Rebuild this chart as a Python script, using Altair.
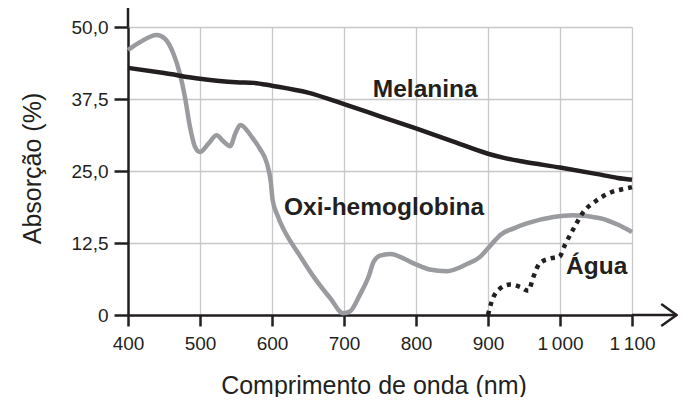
import altair as alt
import pandas as pd

# ---- data ----
mel_nm = [400, 450, 500, 550, 575, 600, 650, 700, 750, 800, 850, 900, 925, 950, 1000, 1050, 1080, 1100]
mel_val = [42.9, 42.0, 41.0, 40.4, 40.3, 39.8, 38.6, 36.6, 34.5, 32.4, 30.2, 28.0, 27.2, 26.6, 25.6, 24.5, 23.8, 23.5]

oxi_nm = [400, 417, 440, 451, 463, 472, 479, 486, 493, 500, 512, 523, 532, 542, 549, 556, 572, 583, 593,
          598, 601, 608, 625, 634, 657, 681, 699, 708, 722, 734, 741, 750, 764, 796, 819, 843, 870, 889,
          900, 910, 917, 935, 954, 991, 1018, 1056, 1080, 1100]
oxi_val = [46.0, 47.4, 48.6, 48.0, 45.4, 41.9, 37.9, 32.7, 29.2, 28.3, 29.8, 31.2, 30.2, 29.3, 31.5, 33.0,
           30.9, 28.9, 26.3, 23.4, 19.9, 17.2, 12.9, 11.2, 6.8, 2.9, 0.3, 0.6, 3.5, 6.6, 9.2, 10.3, 10.6,
           9.0, 7.9, 7.6, 8.8, 10.1, 11.6, 13.0, 13.9, 15.0, 15.9, 17.0, 17.3, 16.8, 15.7, 14.4]

agua_nm = [900, 905, 914, 931, 944, 956, 963, 972, 986, 999, 1007, 1018, 1032, 1051, 1069, 1093, 1100]
agua_val = [0.0, 2.3, 4.3, 5.3, 4.9, 4.2, 6.6, 9.0, 9.8, 10.1, 12.2, 14.8, 17.8, 19.9, 21.2, 22.0, 22.2]

label_text = ["Melanina", "Oxi-hemoglobina", "Água"]
label_nm = [812.8, 755.6, 1051.0]
label_val = [37.9, 17.3, 7.2]

x_ticks = [400, 500, 600, 700, 800, 900, 1000, 1100]
x_tick_labels = ["400", "500", "600", "700", "800", "900", "1\u2009000", "1\u2009100"]
y_ticks = [0, 12.5, 25, 37.5, 50]
y_tick_labels = ["0", "12,5", "25,0", "37,5", "50,0"]

# axis extensions (arrow on x, line continuing upward on y)
x_axis_end = 1162
y_axis_top = 54

INK = "#231f20"
GRAY = "#9a9b9e"
GRID = "#c8c8c8"
FONT = "Liberation Sans"


def label_expr(vals, labels):
    parts = [f"datum.value == {v} ? '{l}'" for v, l in zip(vals, labels)]
    return " : ".join(parts) + " : ''"


mel = pd.DataFrame({"nm": mel_nm, "v": mel_val})
oxi = pd.DataFrame({"nm": oxi_nm, "v": oxi_val})
agua = pd.DataFrame({"nm": agua_nm, "v": agua_val})
labels = pd.DataFrame({"t": label_text, "nm": label_nm, "v": label_val})

xscale = alt.Scale(domain=[400, 1100], nice=False, zero=False)
yscale = alt.Scale(domain=[0, 50], nice=False, zero=False)

xaxis = alt.Axis(
    values=x_ticks, labelExpr=label_expr(x_ticks, x_tick_labels),
    title="Comprimento de onda (nm)", titleFontSize=25, titleFontWeight="normal",
    titleX=245.5, titleY=78, titleBaseline="alphabetic", titleAlign="center",
    titleColor=INK, titleFont=FONT,
    labelFontSize=19, labelFont=FONT, labelColor=INK, labelPadding=8, labelFlush=False,
    labelOverlap=False, tickSize=11, tickWidth=2.5, tickColor=INK,
    domainWidth=2.5, domainColor=INK, grid=True, gridColor=GRID, gridWidth=1.3,
)
yaxis = alt.Axis(
    values=y_ticks, labelExpr=label_expr(y_ticks, y_tick_labels),
    title="Absorção (%)", titleFontSize=25, titleFontWeight="normal",
    titleX=-88, titleY=141, titleBaseline="alphabetic", titleAlign="center",
    titleColor=INK, titleFont=FONT,
    labelFontSize=19, labelFont=FONT, labelColor=INK, labelPadding=6, labelFlush=False,
    labelOverlap=False, tickSize=14, tickWidth=2.5, tickColor=INK,
    domainWidth=2.5, domainColor=INK, grid=True, gridColor=GRID, gridWidth=1.3,
)

base_x = alt.X("nm:Q", scale=xscale, axis=xaxis)
base_y = alt.Y("v:Q", scale=yscale, axis=yaxis)

mel_line = alt.Chart(mel).mark_line(color=INK, strokeWidth=4.5, interpolate="monotone").encode(
    x=base_x, y=base_y)
oxi_line = alt.Chart(oxi).mark_line(color=GRAY, strokeWidth=4.5, interpolate="monotone").encode(
    x="nm:Q", y="v:Q")
agua_line = alt.Chart(agua).mark_line(color=INK, strokeWidth=4.5, strokeDash=[4.3, 5],
                                      strokeCap="butt", interpolate="monotone").encode(
    x="nm:Q", y="v:Q")

text = alt.Chart(labels).mark_text(font=FONT, fontSize=24.5, fontWeight="bold", color=INK,
                                   align="center", baseline="alphabetic").encode(
    x="nm:Q", y="v:Q", text="t:N")

xext = alt.Chart(pd.DataFrame({"a": [1100], "b": [x_axis_end], "y": [0]})).mark_rule(
    color=INK, strokeWidth=2.5).encode(x="a:Q", x2="b:Q", y="y:Q")
yext = alt.Chart(pd.DataFrame({"x": [400], "a": [50], "b": [y_axis_top]})).mark_rule(
    color=INK, strokeWidth=2.5).encode(x="x:Q", y="a:Q", y2="b:Q")
arrow = alt.Chart(pd.DataFrame({"x": [x_axis_end], "y": [0]})).mark_point(
    shape="M-1.4,-1L0,0L-1.4,1", filled=False, size=484, color=INK, strokeWidth=2.5,
    opacity=1).encode(x="x:Q", y="y:Q")

chart = alt.layer(oxi_line, mel_line, agua_line, text, xext, yext, arrow).encode(
    x=base_x, y=base_y
).properties(
    width=504, height=288,
    autosize=alt.AutoSizeParams(type="none"),
    padding={"left": 120, "top": 19, "right": 46, "bottom": 82},
).configure(font=FONT).configure_view(stroke=None)

chart.save("out.html", embed_options={"renderer": "svg", "actions": False})
